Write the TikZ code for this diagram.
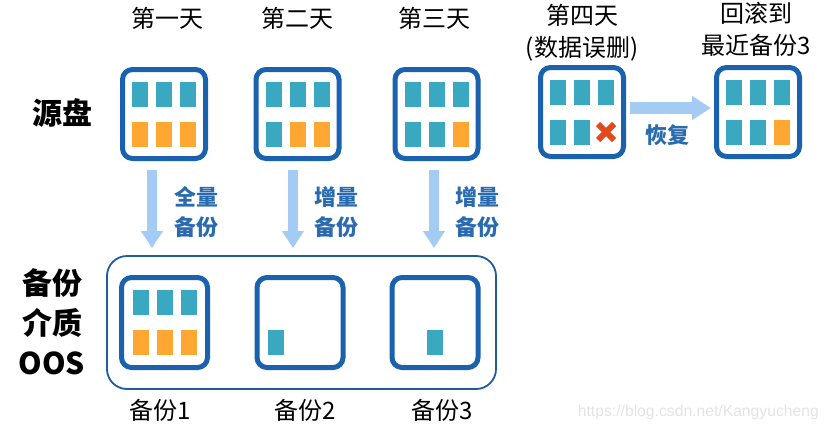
\documentclass[tikz,border=0pt]{standalone}
\usepackage{fontspec}
\setmainfont{Noto Sans CJK SC}
\newfontfamily\wmfont{Liberation Sans}
\usetikzlibrary{arrows.meta}
\definecolor{boxblue}{HTML}{1A62AE}
\definecolor{tealblk}{HTML}{3AA8C0}
\definecolor{orangeblk}{HTML}{FFA733}
\definecolor{arrowblue}{HTML}{A4CBF4}
\definecolor{lblblue}{HTML}{2A6BAF}
\definecolor{xred}{HTML}{E24A1B}
\definecolor{contblue}{HTML}{1F5C99}
\newcommand\sixblocks[7]{%
  \node[#2] (#1-a) at ([shift={(-24,-20)}]#1.center) {};
  \node[#3] (#1-b) at ([shift={(0,-20)}]#1.center) {};
  \node[#4] (#1-c) at ([shift={(24,-20)}]#1.center) {};
  \node[#5] (#1-d) at ([shift={(-24,20)}]#1.center) {};
  \node[#6] (#1-e) at ([shift={(0,20)}]#1.center) {};
  \node[#7] (#1-f) at ([shift={(24,20)}]#1.center) {};
}
\begin{document}
\begin{tikzpicture}[x=1pt,y=-1pt,
  disk/.style={draw=boxblue, line width=5pt, rounded corners=10pt, fill=white,
    minimum width=83pt, minimum height=89pt, inner sep=0pt},
  bdisk/.style={disk, minimum width=86pt, minimum height=90pt},
  blk/.style={minimum width=16pt, minimum height=25pt, inner sep=0pt},
  T/.style={blk, fill=tealblk},
  O/.style={blk, fill=orangeblk},
  N/.style={blk},
  fatv/.style={draw=arrowblue, line width=10pt, -{Triangle[width=21pt,length=17pt]}},
  fath/.style={draw=arrowblue, line width=12pt, -{Triangle[width=23pt,length=19pt]}},
  title/.style={font=\fontsize{24}{32}\selectfont, align=center, inner sep=0pt},
  side/.style={font=\fontsize{30}{40}\selectfont\bfseries, align=center, inner sep=0pt},
  lab/.style={font=\fontsize{22}{30}\selectfont\bfseries, text=lblblue, align=center, inner sep=0pt},
]
\useasboundingbox (0,0) rectangle (827,431);

% titles
\node[title] (t1) at (167,18) {第一天};
\node[title] (t2) at (297,18) {第二天};
\node[title] (t3) at (434,18) {第三天};
\node[title] (t4) at (582,33) {第四天\\(数据误删)};
\node[title] (t5) at (756,29) {回滚到\\最近备份3};

% side labels
\node[side] (src) at (62,113) {源盘};
\node[side] (oos) at (52,322) {备份\\介质\\OOS};

% source disks
\node[disk] (s1) at (164,114) {};
\node[disk] (s2) at (297.5,114) {};
\node[disk] (s3) at (436.5,114) {};
\node[disk] (s4) at (582,112) {};
\node[disk] (s5) at (758,112) {};
\sixblocks{s1}{T}{T}{T}{O}{O}{O}
\sixblocks{s2}{T}{T}{T}{T}{O}{O}
\sixblocks{s3}{T}{T}{T}{T}{T}{O}
\sixblocks{s4}{T}{T}{T}{T}{T}{N}
\sixblocks{s5}{T}{T}{T}{T}{T}{O}
\draw[xred, line width=6pt] ([shift={(-8,-8)}]s4-f.center) -- ([shift={(8,8)}]s4-f.center)
  ([shift={(-8,8)}]s4-f.center) -- ([shift={(8,-8)}]s4-f.center);

% container
\node[draw=contblue, line width=1.8pt, rounded corners=20pt, minimum width=389pt,
  minimum height=133pt, inner sep=0pt] (cont) at (301.5,322.5) {};
\node[bdisk] (b1) at (164.5,322.5) {};
\node[bdisk] (b2) at (300,322.5) {};
\node[bdisk] (b3) at (435,322.5) {};
\sixblocks{b1}{T}{T}{T}{O}{O}{O}
\sixblocks{b2}{N}{N}{N}{T}{N}{N}
\sixblocks{b3}{N}{N}{N}{N}{T}{N}

% backup labels
\node[title] (bl1) at (160,410) {备份1};
\node[title] (bl2) at (305,410) {备份2};
\node[title] (bl3) at (442,410) {备份3};

% vertical arrows
\coordinate (a1) at ([xshift=-12pt]s1.south);
\coordinate (a2) at ([xshift=-4.5pt]s2.south);
\coordinate (a3) at ([xshift=-2.5pt]s3.south);
\draw[fatv, shorten <=8.5pt, shorten >=7pt] (a1) -- (a1 |- cont.north);
\draw[fatv, shorten <=8.5pt, shorten >=7pt] (a2) -- (a2 |- cont.north);
\draw[fatv, shorten <=8.5pt, shorten >=7pt] (a3) -- (a3 |- cont.north);
\node[lab] (l1) at (196,212) {全量\\备份};
\node[lab] (l2) at (336,212) {增量\\备份};
\node[lab] (l3) at (477,212) {增量\\备份};

% restore arrow
\draw[fath, shorten <=3.5pt, shorten >=3pt] ([yshift=4pt]s4.east) -- ([yshift=4pt]s5.west);
\node[lab] (rest) at (667,135) {恢复};

% watermark
\node[anchor=east, inner sep=0pt, text=black!11,
  font=\wmfont\fontsize{15.7}{16}\selectfont] (wm) at (819,412) {https://blog.csdn.net/Kangyucheng};
\end{tikzpicture}
\end{document}
